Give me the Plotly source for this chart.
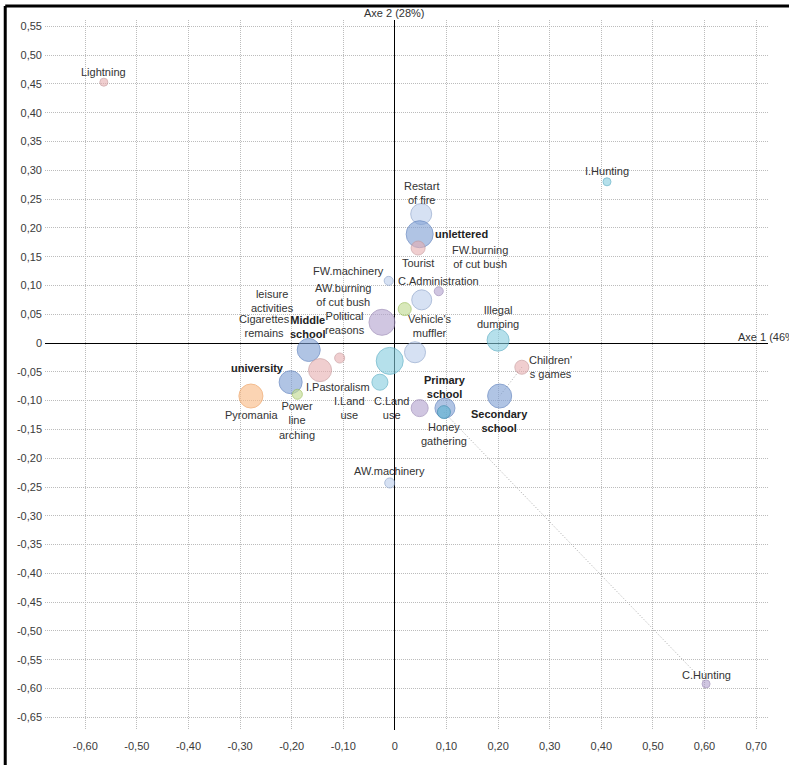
import plotly.graph_objects as go

# ---------------- data ----------------
names = ["Lightning", "I.Hunting", "C.Hunting", "AW.machinery",
         "Restart of fire", "unlettered", "Tourist", "FW.machinery", "C.Administration",
         "FW.burning of cut bush", "AW.burning of cut bush", "Political reasons",
         "Middle school", "Cigarettes remains", "I.Pastoralism", "leisure activities",
         "Vehicle's muffler", "C.Land use", "university", "Power line arching", "Pyromania",
         "I.Land use", "Primary school", "Honey gathering", "Illegal dumping",
         "Children's games", "Secondary school"]
axe1 = [-0.564, 0.411, 0.603, -0.010,
        0.051, 0.048, 0.045, -0.012, 0.085,
        0.052, 0.019, -0.025,
        -0.167, -0.107, -0.145, -0.010,
        0.039, -0.029, -0.202, -0.189, -0.279,
        0.048, 0.097, 0.095, 0.200,
        0.246, 0.203]
axe2 = [0.453, 0.280, -0.592, -0.243,
        0.224, 0.189, 0.165, 0.108, 0.090,
        0.075, 0.059, 0.036,
        -0.012, -0.026, -0.047, -0.031,
        -0.016, -0.068, -0.068, -0.089, -0.092,
        -0.113, -0.113, -0.120, 0.005,
        -0.042, -0.092]
bubble_size = [8, 8, 8, 10,
               21, 27, 14, 9, 9,
               20, 13, 26,
               23, 10, 23, 27,
               21, 16, 23, 10, 24,
               17, 20, 13, 22,
               14, 24]
group = ["pink", "cyan", "purple", "lightblue",
         "lightblue", "blue", "pink", "lightblue", "purple",
         "lightblue", "green", "purple",
         "blue", "pink", "pink", "cyan",
         "lightblue", "cyan", "blue", "green", "orange",
         "purple", "blue", "teal", "cyan",
         "pink", "blue"]
label_text = ["Lightning", "I.Hunting", "C.Hunting", "AW.machinery",
              "Restart<br>of fire", "unlettered", "Tourist", "FW.machinery", "C.Administration",
              "FW.burning<br>of cut bush", "AW.burning<br>of cut bush", "Political<br>reasons",
              "Middle<br>school", "Cigarettes<br>remains", "I.Pastoralism", "leisure<br>activities",
              "Vehicle's<br>muffler", "C.Land<br>use", "university", "Power<br>line<br>arching", "Pyromania",
              "I.Land<br>use", "Primary<br>school", "Honey<br>gathering", "Illegal<br>dumping",
              "Children'<br>s games", "Secondary<br>school"]
bold_labels = ["unlettered", "Middle school", "university", "Primary school", "Secondary school"]
links = [("Children's games", "Secondary school"), ("Honey gathering", "C.Hunting")]

x_ticks = [-0.6, -0.5, -0.4, -0.3, -0.2, -0.1, 0, 0.1, 0.2, 0.3, 0.4, 0.5, 0.6, 0.7]
x_tick_labels = ["-0,60", "-0,50", "-0,40", "-0,30", "-0,20", "-0,10", "0",
                 "0,10", "0,20", "0,30", "0,40", "0,50", "0,60", "0,70"]
y_ticks = [0.55, 0.5, 0.45, 0.4, 0.35, 0.3, 0.25, 0.2, 0.15, 0.1, 0.05, 0,
           -0.05, -0.1, -0.15, -0.2, -0.25, -0.3, -0.35, -0.4, -0.45, -0.5, -0.55, -0.6, -0.65]
y_tick_labels = ["0,55", "0,50", "0,45", "0,40", "0,35", "0,30", "0,25", "0,20", "0,15", "0,10",
                 "0,05", "0", "-0,05", "-0,10", "-0,15", "-0,20", "-0,25", "-0,30", "-0,35",
                 "-0,40", "-0,45", "-0,50", "-0,55", "-0,60", "-0,65"]

# ---------------- styles ----------------
fills = {"lightblue": "rgba(188,206,236,0.85)", "blue": "rgba(124,157,212,0.85)",
         "pink": "rgba(232,174,176,0.85)", "purple": "rgba(178,160,206,0.85)",
         "cyan": "rgba(132,204,222,0.85)", "green": "rgba(194,220,146,0.9)",
         "orange": "rgba(250,188,136,0.9)", "teal": "rgba(96,180,210,0.9)"}
borders = {"lightblue": "#8ea5cc", "blue": "#5b7fbd", "pink": "#c99a9c", "purple": "#9a88b5",
           "cyan": "#5aaec5", "green": "#9cbf5a", "orange": "#eea060", "teal": "#3c8fb0"}
# label offsets in pixels (dx right, dy down) and anchor
label_style = {
    "Lightning": (0, -10, "center"), "I.Hunting": (0, -11, "center"), "C.Hunting": (0, -9, "center"),
    "AW.machinery": (0, -12, "center"), "Restart of fire": (0, -21, "center"),
    "unlettered": (13, 0, "left"), "Tourist": (0, 15, "center"), "FW.machinery": (-3, -10, "right"),
    "C.Administration": (0, -10, "center"), "FW.burning of cut bush": (58, -43, "center"),
    "AW.burning of cut bush": (-62, -14, "center"), "Political reasons": (-15, 1, "right"),
    "Middle school": (-1, -23, "center"), "Cigarettes remains": (-75, -32, "center"),
    "I.Pastoralism": (18, 17, "center"), "leisure activities": (-117, -60, "center"),
    "Vehicle's muffler": (15, -26, "center"), "C.Land use": (12, 26, "center"),
    "university": (-33, -14, "center"), "Power line arching": (0, 26, "center"),
    "Pyromania": (1, 19, "center"), "I.Land use": (-70, 0, "center"),
    "Primary school": (0, -21, "center"), "Honey gathering": (0, 22, "center"),
    "Illegal dumping": (0, -23, "center"), "Children's games": (29, 0, "center"),
    "Secondary school": (0, 25, "center"),
}
FONT = "Liberation Sans, Arial, sans-serif"

fig = go.Figure()

# dotted leader links
for a, b in links:
    ia, ib = names.index(a), names.index(b)
    fig.add_trace(go.Scatter(x=[axe1[ia], axe1[ib]], y=[axe2[ia], axe2[ib]], mode="lines",
                             line=dict(color="#a8a8a8", width=1, dash="1px,2px"),
                             hoverinfo="skip", showlegend=False))

fig.add_trace(go.Scatter(
    x=axe1, y=axe2, mode="markers", text=names, hoverinfo="text",
    marker=dict(size=bubble_size, sizemode="diameter",
                color=[fills[g] for g in group],
                line=dict(color=[borders[g] for g in group], width=1)),
    showlegend=False))

for i, n in enumerate(names):
    dx, dy, anchor = label_style[n]
    txt = label_text[i]
    if n in bold_labels:
        txt = "<b>" + txt + "</b>"
    fig.add_annotation(x=axe1[i], y=axe2[i], text=txt, showarrow=False,
                       xshift=dx, yshift=-dy, xanchor=anchor, yanchor="middle",
                       align="center", font=dict(family=FONT, size=11,
                                                 color="#222" if n in bold_labels else "#333"))

# axis titles
fig.add_annotation(x=0, y=1, xref="x", yref="paper", text="Axe 2 (28%)", showarrow=False,
                   xanchor="center", yanchor="bottom", yshift=-1,
                   font=dict(family=FONT, size=11, color="#333"))
fig.add_annotation(x=0.661, y=0, xref="x", yref="y", text="Axe 1 (46%)", showarrow=False,
                   xanchor="left", yanchor="bottom", yshift=-2,
                   font=dict(family=FONT, size=11, color="#333"))

# frame (top / left black border of the original picture)
fig.add_shape(type="line", xref="paper", yref="paper", x0=-0.055, x1=1.04, y0=1.0197, y1=1.0197,
              line=dict(color="black", width=3))
fig.add_shape(type="line", xref="paper", yref="paper", x0=-0.055, x1=-0.055, y0=1.0197, y1=-0.06,
              line=dict(color="black", width=3))

axis_common = dict(showgrid=True, gridcolor="#bcbcbc", griddash="1px,1px", gridwidth=1,
                   zeroline=True, zerolinecolor="black", zerolinewidth=1, automargin=False,
                   showline=False, ticks="", tickfont=dict(family=FONT, size=11, color="#3a3a3a"))
fig.update_xaxes(range=[-0.678, 0.723], tickvals=x_ticks, ticktext=x_tick_labels,
                 ticklabelstandoff=8, **axis_common)
fig.update_yaxes(range=[-0.672, 0.561], tickvals=y_ticks, ticktext=y_tick_labels,
                 ticklabelstandoff=2, **axis_common)
fig.update_layout(width=789, height=765, margin=dict(l=45, r=21, t=20, b=35, autoexpand=False),
                  plot_bgcolor="white", paper_bgcolor="white",
                  font=dict(family=FONT), showlegend=False)
fig.write_html("out.html", config={"displayModeBar": False},
               post_script="document.body.style.margin='0px';document.body.style.overflow='hidden';")
